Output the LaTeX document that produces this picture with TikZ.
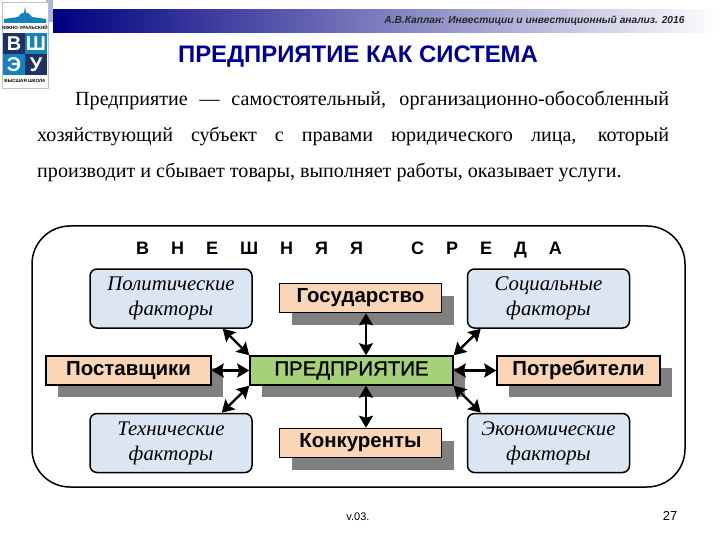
\documentclass[tikz,border=0pt]{standalone}
\usepackage{fontspec}
\setmainfont{Liberation Serif}
\setsansfont{Liberation Sans}
\newfontfamily\midweight[FakeBold=1.2]{Liberation Sans}
\usepackage{tikz}
\usetikzlibrary{positioning,arrows.meta,shadows}
\definecolor{deepnavy}{RGB}{0,0,128}
\definecolor{titleblue}{RGB}{0,0,153}
\definecolor{peach}{RGB}{250,213,182}
\definecolor{paleblue}{RGB}{220,230,242}
\definecolor{leafgreen}{RGB}{165,210,120}
\definecolor{logoblue}{RGB}{20,130,190}
\definecolor{logonavy}{RGB}{30,50,100}
\tikzset{
  factbox/.style={draw, line width=1.5pt, rounded corners=7pt, fill=paleblue,
                  minimum width=162pt, minimum height=59pt, align=center,
                  font=\fontsize{20.8}{25}\selectfont\itshape},
  peachbox/.style={draw, line width=1.5pt, fill=peach, minimum height=29pt,
                   font=\fontsize{20.4}{22}\sffamily\bfseries,
                   drop shadow={shadow xshift=12pt, shadow yshift=-12pt, fill=black!50, opacity=1}},
  midbox/.style={peachbox, fill=leafgreen, font=\fontsize{20.4}{22}\midweight},
  both/.style={{Stealth[length=12pt,width=14pt,inset=2pt]}-{Stealth[length=12pt,width=14pt,inset=2pt]}, line width=2.4pt},
  blockletter/.style={text=white, font=\fontsize{20}{20}\sffamily\bfseries, inner sep=0pt},
  logotext/.style={font=\fontsize{4.6}{5}\sffamily\bfseries, inner sep=0pt},
}
\begin{document}
\begin{tikzpicture}[x=1pt,y=1pt]
  \useasboundingbox (0,0) rectangle (720,-540);
  % banner
  \fill[left color=deepnavy, right color=white] (53,-10) rectangle (720,-33);
  \fill[deepnavy!30] (46,0) rectangle (53,-22);
  \node[font=\fontsize{10.2}{12}\sffamily\bfseries\itshape, text=black!85, anchor=east] (author) at (688,-21)
    {А.В.Каплан: Инвестиции и инвестиционный анализ. 2016};
  % logo
  \fill[white] (2,-2) rectangle (48,-88);
  \draw[deepnavy!25] (2,-2) rectangle (48,-88);
  \fill[logoblue] (4,-23) -- (4,-19) -- (18,-17) -- (22,-13) -- (24,-13) -- (25,-7) -- (26,-13) -- (28,-13) -- (32,-17) -- (46,-19) -- (46,-23) -- cycle;
  \node[logotext] (topname) at (25,-27) {ЮЖНО-УРАЛЬСКИЙ};
  \fill[logonavy] (3,-33) rectangle (25,-54);
  \fill[logoblue] (25,-33) rectangle (47,-54);
  \fill[logoblue] (3,-54) rectangle (25,-75);
  \fill[logonavy] (25,-54) rectangle (47,-75);
  \node[blockletter] (vletter) at (14,-43.5) {В};
  \node[blockletter] (shletter) at (36,-43.5) {Ш};
  \node[blockletter] (eletter) at (14,-64.5) {Э};
  \node[blockletter] (uletter) at (36,-64.5) {У};
  \node[logotext] (botname) at (25,-81) {ВЫСШАЯ ШКОЛА};
  % heading and text
  \node[font=\fontsize{23.9}{28}\sffamily\bfseries, text=titleblue] (title) at (358,-57) {ПРЕДПРИЯТИЕ КАК СИСТЕМА};
  \node[anchor=north west, text width=632pt, align=justify, inner sep=0pt, font=\fontsize{20.1}{36}\selectfont] (para) at (37,-91)
    {\hspace*{38pt}Предприятие — самостоятельный, организационно-обособленный\linebreak хозяйствующий субъект с правами юридического лица, который\linebreak производит и сбывает товары, выполняет работы, оказывает услуги.};
  % outer frame
  \draw[line width=1.5pt, rounded corners=38pt] (32,-226) rectangle (685,-487);
  \node[font=\fontsize{18}{20}\sffamily\bfseries] (env) at (349,-250)
    {В\hspace{22pt}Н\hspace{22pt}Е\hspace{22pt}Ш\hspace{22pt}Н\hspace{22pt}Я\hspace{22pt}Я\hspace{48pt}С\hspace{22pt}Р\hspace{22pt}Е\hspace{22pt}Д\hspace{22pt}А};
  % boxes
  \node[midbox, minimum width=203pt] (ent) at (351.5,-370.5) {ПРЕДПРИЯТИЕ};
  \node[peachbox, minimum width=162pt] (gov) at (360.5,-298) {Государство};
  \node[peachbox, minimum width=162pt] (comp) at (360.5,-443) {Конкуренты};
  \node[peachbox, minimum width=165pt, left=37.5pt of ent] (supp) {Поставщики};
  \node[peachbox, minimum width=163pt, right=42.5pt of ent] (cons) {Потребители};
  \node[factbox] (pol) at (171,-298.5) {Политические\\факторы};
  \node[factbox] (soc) at (548.5,-298.5) {Социальные\\факторы};
  \node[factbox] (tech) at (171,-443) {Технические\\факторы};
  \node[factbox] (econ) at (548.5,-443) {Экономические\\факторы};
  % connectors
  \coordinate (mid) at (366,-370);
  \draw[both] (mid|-ent.north) -- (mid|-gov.south);
  \draw[both] (mid|-ent.south) -- (mid|-comp.north);
  \draw[both] (ent) -- (supp);
  \draw[both] (ent) -- (cons);
  \draw[both] (ent.north west) -- ([xshift=-30pt]pol.south east);
  \draw[both] (ent.north east) -- ([xshift=14pt]soc.south west);
  \draw[both] (ent.south west) -- ([xshift=-31pt]tech.north east);
  \draw[both] (ent.south east) -- ([xshift=14pt]econ.north west);
  % footer
  \node[font=\fontsize{11}{13}\sffamily] (ver) at (358,-517) {v.03.};
  \node[font=\fontsize{13}{15}\sffamily] (num) at (670,-516) {27};
\end{tikzpicture}
\end{document}
